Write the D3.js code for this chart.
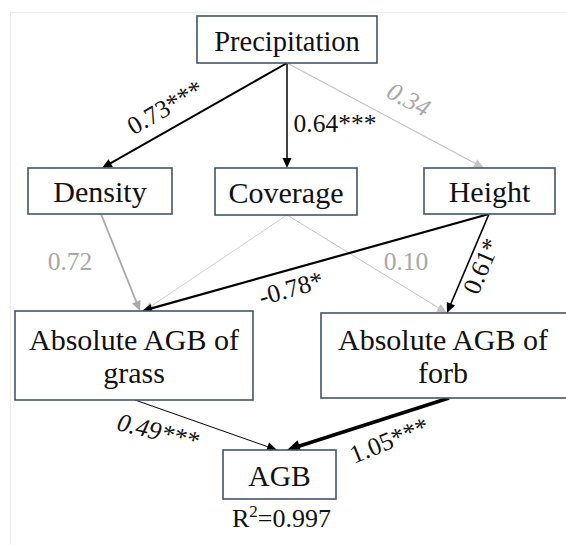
<!DOCTYPE html>
<html>
<head>
<meta charset="utf-8">
<script src="https://cdn.jsdelivr.net/npm/d3@7"></script>
<style>
  body { margin: 0; background: #fff; }
</style>
</head>
<body>
<div id="chart"></div>
<script>
// path model: nodes, edges and standardized coefficients
var nodeNames  = ["Precipitation", "Density", "Coverage", "Height", "grass", "forb", "AGB"];
var nodeLabels = [["Precipitation"], ["Density"], ["Coverage"], ["Height"],
                  ["Absolute AGB of", "grass"], ["Absolute AGB of", "forb"], ["AGB"]];
var edgeFrom = ["Precipitation", "Precipitation", "Precipitation", "Density", "Coverage", "Coverage", "Height", "Height", "grass", "forb"];
var edgeTo   = ["Density", "Coverage", "Height", "grass", "grass", "forb", "grass", "forb", "AGB", "AGB"];
var coefficients = [0.73, 0.64, 0.34, 0.72, null, 0.10, -0.78, 0.61, 0.49, 1.05];
var stars        = ["***", "***", "", "", "", "", "*", "*", "***", "***"];
var rSquared = 0.997;

// layout (pixels): box corners [x0, y0, x1, y1]
var boxes = {
  Precipitation: [197, 16, 377, 63],
  Density:       [28, 168, 172, 214],
  Coverage:      [215, 168, 357, 215],
  Height:        [424, 168, 555, 214],
  grass:         [15, 311, 253, 400],
  forb:          [321, 313, 580, 398],
  AGB:           [223, 450, 336, 499]
};
var labelSize = {Precipitation: 28.5, AGB: 29.5};
// x where each edge leaves the bottom of its source / hits the top of its target
var ports = [[287, 102], [287, 287], [287, 484], [101, 140], [287, 144],
             [287, 447], [489, 142], [489, 447], [135, 277], [449, 287]];
var edgeStyle = [
  {c: "#000", w: 2},   {c: "#000", w: 1.5}, {c: "#c4c4c4", w: 1.2}, {c: "#a9a9a9", w: 1.8},
  {c: "#cfcfcf", w: 1}, {c: "#c4c4c4", w: 1}, {c: "#000", w: 2.2},  {c: "#000", w: 1.6},
  {c: "#000", w: 1},   {c: "#000", w: 3.6}
];
// label centre x, y and rotation
var labelPos = [[165, 107, -30], [335, 123, 0], [409, 99, 28], [70, 261, 0], null,
                [406, 261, 0], [291, 288, -16], [481, 266, -67], [158, 431, 14], [389, 440, -22]];
var labelItalic = [false, false, true, false, false, false, false, false, true, false];

var width = 566, height = 545;
var serif = "'Liberation Serif', 'Times New Roman', serif";

var svg = d3.select("#chart")
  .append("svg")
    .attr("width", width)
    .attr("height", height)
    .attr("font-family", serif);

svg.append("rect")
  .attr("width", width).attr("height", height)
  .attr("fill", "#fff");

// faint outer frame
svg.append("rect")
  .attr("x", 10.5).attr("y", 12.5)
  .attr("width", 700).attr("height", 700)
  .attr("fill", "none")
  .attr("stroke", "#ececec")
  .attr("stroke-width", 1);

// edges
var edges = edgeFrom.map(function(f, i) {
  var s = boxes[f], t = boxes[edgeTo[i]];
  return {
    x1: ports[i][0], y1: s[3],
    x2: ports[i][1], y2: t[1],
    style: edgeStyle[i]
  };
});

var edgeG = svg.append("g");
edges.forEach(function(e) {
  var ang = Math.atan2(e.y2 - e.y1, e.x2 - e.x1);
  var head = e.style.w > 3 ? 13 : 10,
      half = e.style.w > 3 ? 6 : 4.5;
  edgeG.append("line")
    .attr("x1", e.x1).attr("y1", e.y1)
    .attr("x2", e.x2 - Math.cos(ang) * head * 0.7)
    .attr("y2", e.y2 - Math.sin(ang) * head * 0.7)
    .attr("stroke", e.style.c)
    .attr("stroke-width", e.style.w);
  edgeG.append("path")
    .attr("d", "M0,0L" + (-head) + "," + (-half) + "L" + (-head) + "," + half + "Z")
    .attr("fill", e.style.c)
    .attr("transform", "translate(" + e.x2 + "," + e.y2 + ") rotate(" + (ang * 180 / Math.PI) + ")");
});

// coefficient labels
coefficients.forEach(function(v, i) {
  if (v === null) return;
  var p = labelPos[i];
  svg.append("text")
    .attr("transform", "translate(" + p[0] + "," + p[1] + ") rotate(" + p[2] + ")")
    .attr("text-anchor", "middle")
    .attr("dy", "0.35em")
    .attr("font-family", serif)
    .attr("font-size", 25.5)
    .attr("font-style", labelItalic[i] ? "italic" : "normal")
    .attr("fill", stars[i] ? "#111" : "#a8a8a8")
    .text(v.toFixed(2) + stars[i]);
});

// boxes
nodeNames.forEach(function(n, i) {
  var b = boxes[n];
  var g = svg.append("g");
  g.append("rect")
    .attr("x", b[0]).attr("y", b[1])
    .attr("width", b[2] - b[0]).attr("height", b[3] - b[1])
    .attr("fill", "#fff")
    .attr("stroke", "#44546a")
    .attr("stroke-width", 1.6);
  var lines = nodeLabels[i];
  var cx = n === "forb" ? 443 : (b[0] + b[2]) / 2,
      cy = (b[1] + b[3]) / 2;
  lines.forEach(function(t, j) {
    g.append("text")
      .attr("x", cx)
      .attr("y", cy + 11 + (j - (lines.length - 1) / 2) * 33)
      .attr("text-anchor", "middle")
      .attr("font-family", serif)
      .attr("font-size", labelSize[n] || 30)
      .attr("fill", "#111")
      .text(t);
  });
});

// R squared under the response box
var r2 = svg.append("text")
  .attr("x", (boxes.AGB[0] + boxes.AGB[2]) / 2 + 2)
  .attr("y", 527)
  .attr("text-anchor", "middle")
  .attr("font-family", serif)
  .attr("font-size", 26)
  .attr("fill", "#111");
r2.append("tspan").text("R");
r2.append("tspan").attr("font-size", 17).attr("dy", -10).text("2");
r2.append("tspan").attr("dy", 10).text("=" + rSquared);
</script>
</body>
</html>
